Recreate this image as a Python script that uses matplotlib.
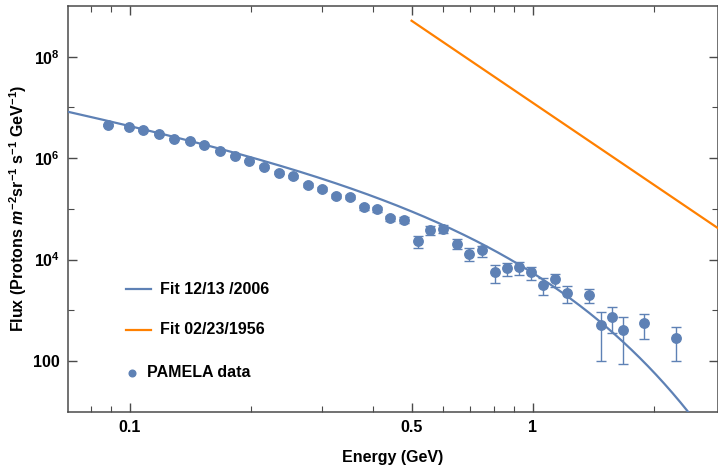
import numpy as np
import matplotlib
matplotlib.use("Agg")
import matplotlib.pyplot as plt
from matplotlib.ticker import FixedLocator, NullFormatter, FixedFormatter

plt.rcParams['font.family'] = ['Liberation Sans', 'DejaVu Sans']
plt.rcParams['font.weight'] = 'bold'
plt.rcParams['mathtext.fontset'] = 'custom'
plt.rcParams['mathtext.rm'] = 'Liberation Sans:bold'
plt.rcParams['mathtext.it'] = 'Liberation Sans:italic:bold'
plt.rcParams['mathtext.bf'] = 'Liberation Sans:bold'

# PAMELA data (Energy GeV, flux, error low, error high)
energy = [0.0883, 0.0993, 0.108, 0.118, 0.129, 0.141, 0.153, 0.167, 0.182, 0.197,
          0.215, 0.234, 0.254, 0.276, 0.299, 0.324, 0.352, 0.380, 0.411, 0.443,
          0.478, 0.518, 0.557, 0.600, 0.648, 0.695, 0.748, 0.805, 0.862, 0.924,
          0.990, 1.061, 1.134, 1.212, 1.380, 1.472, 1.571, 1.673, 1.892, 2.265]
flux = [4.50e6, 4.17e6, 3.54e6, 2.95e6, 2.35e6, 2.15e6, 1.82e6, 1.40e6, 1.09e6, 8.9e5,
        6.84e5, 5.16e5, 4.38e5, 2.95e5, 2.47e5, 1.82e5, 1.69e5, 1.07e5, 9.8e4, 6.5e4,
        5.98e4, 2.32e4, 3.88e4, 4.01e4, 2.06e4, 1.29e4, 1.52e4, 5.61e3, 6.92e3, 7.05e3,
        5.56e3, 3.15e3, 4.10e3, 2.19e3, 2.03e3, 506, 748, 409, 562, 288]
flux_hi = [4.7e6, 4.35e6, 3.7e6, 3.08e6, 2.46e6, 2.25e6, 1.91e6, 1.47e6, 1.15e6, 9.4e5,
           7.25e5, 5.5e5, 4.7e5, 3.2e5, 2.68e5, 1.99e5, 1.86e5, 1.19e5, 1.10e5, 7.3e4,
           6.8e4, 2.96e4, 4.59e4, 4.8e4, 2.51e4, 1.67e4, 1.88e4, 7.8e3, 8.45e3, 8.8e3,
           7.24e3, 4.28e3, 5.2e3, 2.97e3, 2.67e3, 914, 1146, 728, 857, 475]
flux_lo = [4.3e6, 4.0e6, 3.38e6, 2.82e6, 2.24e6, 2.05e6, 1.73e6, 1.33e6, 1.03e6, 8.4e5,
           6.45e5, 4.84e5, 4.08e5, 2.72e5, 2.27e5, 1.66e5, 1.53e5, 9.6e4, 8.7e4, 5.8e4,
           5.2e4, 1.67e4, 3.05e4, 3.3e4, 1.60e4, 9.4e3, 1.14e4, 3.45e3, 4.74e3, 4.9e3,
           3.96e3, 2.0e3, 2.92e3, 1.37e3, 1.41e3, 101, 352, 86, 272, 99]

# Fit 12/13/2006 : J = A * E^-gamma * exp(-E/E0)
fit06_A = 10 ** 5.231
fit06_gamma = 1.55
fit06_E0 = 0.29
# Fit 02/23/1956 : J = A * E^-gamma, drawn for E >= 0.5
fit56_A = 1.23e7
fit56_gamma = 5.38
fit56_Emin = 0.5

legend_labels = ['Fit 12/13 /2006', 'Fit 02/23/1956', 'PAMELA data']

xlim = (0.0702, 2.88)
ylim = (10, 1e9)

blue = '#5E81B5'
orange = '#FF8000'
axis_col = '#4a4a4a'
FS = 11.5

fig = plt.figure(figsize=(7.18, 4.68), dpi=100)
ax = fig.add_axes([68 / 718, (468 - 411.7) / 468, 1 - 68 / 718, (411.7 - 6) / 468])
ax.set_xscale('log')
ax.set_yscale('log')
ax.set_xlim(*xlim)
ax.set_ylim(*ylim)

E = np.logspace(np.log10(xlim[0]), np.log10(xlim[1]), 400)
ax.plot(E, fit06_A * E ** (-fit06_gamma) * np.exp(-E / fit06_E0), color=blue, lw=1.6,
        zorder=3)
E2 = np.logspace(np.log10(fit56_Emin), np.log10(xlim[1]), 100)
ax.plot(E2, fit56_A * E2 ** (-fit56_gamma), color=orange, lw=1.6, zorder=3)

f = np.array(flux)
yerr = np.vstack([f - np.array(flux_lo), np.array(flux_hi) - f])
ax.errorbar(energy, flux, yerr=yerr, fmt='o', color=blue, ms=6.8, ecolor=blue,
            elinewidth=1.0, capsize=3.5, capthick=1.0, zorder=4)

# legend drawn manually (Mathematica-style placement)
tr = ax.transAxes
ax.plot([0.0892, 0.1277], [0.3024, 0.3024], color=blue, lw=1.6, transform=tr, clip_on=False)
ax.text(0.1415, 0.3024, legend_labels[0], transform=tr, fontsize=FS, fontweight='bold',
        va='center', ha='left')
ax.plot([0.0892, 0.1277], [0.2014, 0.2014], color=orange, lw=1.6, transform=tr, clip_on=False)
ax.text(0.1415, 0.2014, legend_labels[1], transform=tr, fontsize=FS, fontweight='bold',
        va='center', ha='left')
ax.plot([0.0989], [0.0961], 'o', color=blue, ms=4.8, transform=tr, clip_on=False)
ax.text(0.1215, 0.0961, legend_labels[2], transform=tr, fontsize=FS, fontweight='bold',
        va='center', ha='left')

# ticks
ax.xaxis.set_major_locator(FixedLocator([0.1, 0.5, 1]))
ax.xaxis.set_major_formatter(FixedFormatter(['0.1', '0.5', '1']))
ax.xaxis.set_minor_locator(FixedLocator([0.08, 0.09, 0.2, 0.3, 0.4, 0.6, 0.7, 0.8, 0.9, 2]))
ax.xaxis.set_minor_formatter(NullFormatter())
ax.yaxis.set_major_locator(FixedLocator([1e2, 1e4, 1e6, 1e8]))
ax.yaxis.set_major_formatter(FixedFormatter(['100', r'$10^{4}$', r'$10^{6}$', r'$10^{8}$']))
ax.yaxis.set_minor_locator(FixedLocator([1e3, 1e5, 1e7]))
ax.yaxis.set_minor_formatter(NullFormatter())
ax.tick_params(which='both', direction='in', top=True, right=True, color=axis_col,
               labelsize=FS, pad=6)
ax.tick_params(which='major', length=6.5, width=1.0)
ax.tick_params(which='minor', length=4, width=0.8)
for s in ax.spines.values():
    s.set_color(axis_col)
    s.set_linewidth(1.1)

ax.set_xlabel('Energy (GeV)', fontsize=FS, fontweight='bold', labelpad=11)
ax.set_ylabel(r'Flux (Protons $m^{-2}$sr$^{-1}$ s$^{-1}$ GeV$^{-1}$)', fontsize=FS,
              fontweight='bold', labelpad=2.5)

fig.savefig('out.png', dpi=100)
